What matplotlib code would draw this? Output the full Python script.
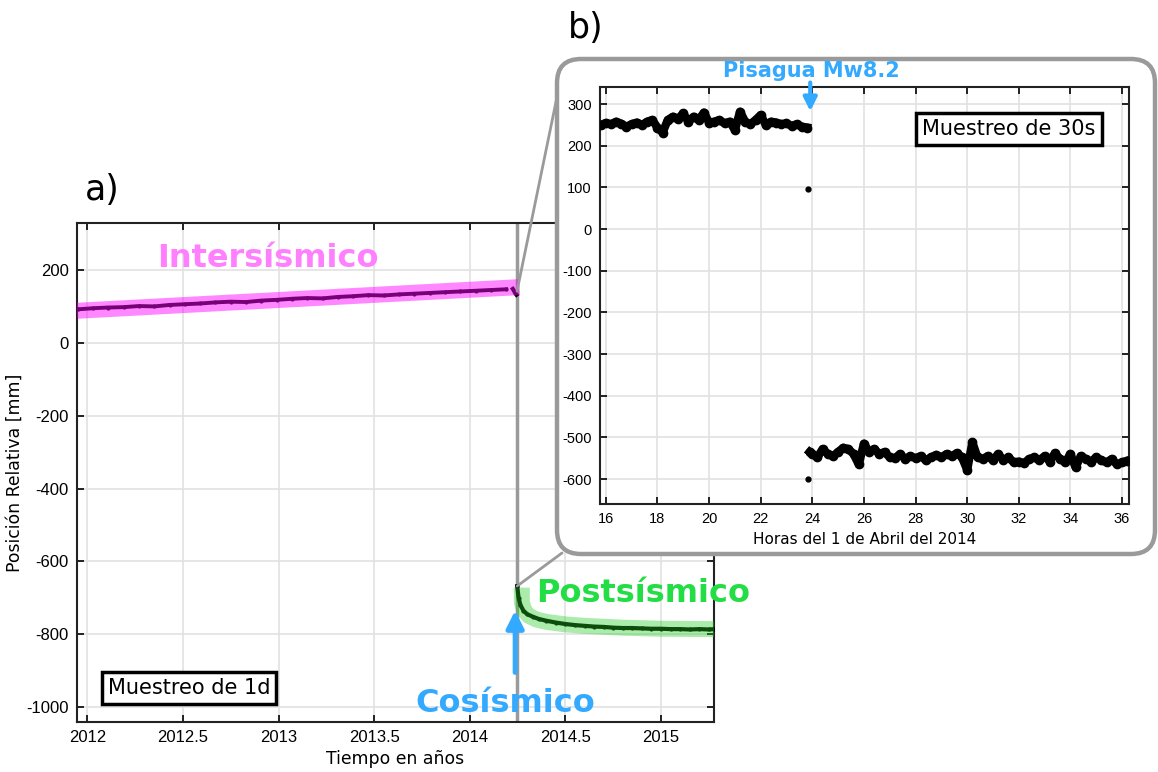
import matplotlib
matplotlib.use('Agg')
import matplotlib.pyplot as plt
from matplotlib.patches import FancyBboxPatch, ConnectionPatch
from matplotlib.transforms import IdentityTransform

plt.rcParams['axes.unicode_minus'] = False

# --- daily series (panel a) ---
t_inter = [2011.95, 2012.03, 2012.11, 2012.19, 2012.27, 2012.35, 2012.43, 2012.51,
           2012.59, 2012.67, 2012.75, 2012.83, 2012.91, 2012.99, 2013.07, 2013.15,
           2013.23, 2013.31, 2013.39, 2013.47, 2013.55, 2013.63, 2013.71, 2013.79,
           2013.87, 2013.95, 2014.03, 2014.11, 2014.19]
v_inter = [92, 95, 97, 98, 101, 100, 104, 106, 108, 111, 113, 112, 116, 118, 121, 123,
           122, 126, 128, 131, 130, 133, 135, 137, 139, 141, 143, 145, 147]
t_hook = [2014.225, 2014.232, 2014.238, 2014.244]
v_hook = [148, 142, 136, 132]
t_post = [2014.248, 2014.255, 2014.265, 2014.28, 2014.30, 2014.33, 2014.36, 2014.40,
          2014.45, 2014.50, 2014.55, 2014.60, 2014.65, 2014.70, 2014.75, 2014.80,
          2014.85, 2014.90, 2014.95, 2015.00, 2015.05, 2015.10, 2015.15, 2015.20,
          2015.25, 2015.277]
v_post = [-668, -700, -720, -735, -745, -752, -758, -763, -768, -772, -775, -777, -779,
          -780, -782, -783, -783, -784, -785, -785, -786, -786, -787, -786, -787, -786]

# trend bands
band_inter_t = [2011.946, 2014.26]
band_inter_v = [88, 153]
band_post_t = [2014.272, 2014.272, 2014.285, 2014.31, 2014.35, 2014.40, 2014.50,
               2014.60, 2014.80, 2015.00, 2015.277]
band_post_v = [-672, -712, -735, -750, -760, -766, -773, -777, -782, -785, -786]

quake_year = 2014.247

# --- 30 s series (panel b) ---
pre_h = [15.8, 16.0, 16.2, 16.4, 16.6, 16.8, 17.0, 17.2, 17.4, 17.6,
         17.8, 18.0, 18.2, 18.4, 18.6, 18.8, 19.0, 19.2, 19.4, 19.6,
         19.8, 20.0, 20.2, 20.4, 20.6, 20.8, 21.0, 21.2, 21.4, 21.6,
         21.8, 22.0, 22.2, 22.4, 22.6, 22.8, 23.0, 23.2, 23.4, 23.6,
         23.8]
pre_v = [250, 255, 252, 258, 253, 246, 252, 256, 250, 258,
         262, 244, 232, 262, 270, 265, 278, 258, 270, 262,
         280, 256, 258, 262, 254, 258, 238, 282, 258, 252,
         262, 274, 250, 258, 256, 252, 254, 248, 252, 246,
         244]
jump_h = [23.85, 23.83]
jump_v = [97, -600]
post_h = [23.9, 24.0, 24.2, 24.4, 24.6, 24.8, 25.0, 25.2, 25.4, 25.6,
          25.8, 26.0, 26.2, 26.4, 26.6, 26.8, 27.0, 27.2, 27.4, 27.6,
          27.8, 28.0, 28.2, 28.4, 28.6, 28.8, 29.0, 29.2, 29.4, 29.6,
          29.8, 30.0, 30.2, 30.4, 30.6, 30.8, 31.0, 31.2, 31.4, 31.6,
          31.8, 32.0, 32.2, 32.4, 32.6, 32.8, 33.0, 33.2, 33.4, 33.6,
          33.8, 34.0, 34.2, 34.4, 34.6, 34.8, 35.0, 35.2, 35.4, 35.6,
          35.8, 36.0, 36.2]
post_v = [-535, -540, -548, -528, -540, -545, -535, -525, -528, -540,
          -565, -515, -535, -528, -540, -535, -548, -550, -540, -552,
          -545, -550, -545, -555, -548, -542, -548, -540, -545, -538,
          -548, -578, -512, -548, -552, -545, -555, -540, -555, -548,
          -560, -558, -562, -552, -548, -555, -545, -558, -538, -552,
          -560, -540, -572, -545, -552, -558, -548, -555, -560, -552,
          -565, -560, -556]

W, H = 1158, 772
fig = plt.figure(figsize=(W / 100, H / 100), dpi=100)


def fx(px):
    return px / W


def fy(py):
    return 1 - py / H


tick_font = dict(family='Liberation Sans')
grid_col = '#e2e2e2'
gray = '#9a9a9a'

# ---------------- panel a ----------------
ax = fig.add_axes([fx(77), fy(722), fx(714) - fx(77), fy(223) - fy(722)])
ax.set_zorder(0)
ax.set_xlim(2011.946, 2015.277)
ax.set_ylim(-1041, 329)
ax.set_xticks([2012, 2012.5, 2013, 2013.5, 2014, 2014.5, 2015])
ax.set_xticklabels(['2012', '2012.5', '2013', '2013.5', '2014', '2014.5', '2015'], **tick_font)
ax.set_yticks([-1000, -800, -600, -400, -200, 0, 200])
ax.set_yticklabels(['-1000', '-800', '-600', '-400', '-200', '0', '200'], **tick_font)
ax.tick_params(direction='in', top=True, right=True, length=5, width=1.2, labelsize=12, pad=6)
ax.grid(True, color=grid_col, lw=1.2)
ax.set_axisbelow(True)
for s in ax.spines.values():
    s.set_linewidth(1.5)
    s.set_color('#222222')

ax.axvline(quake_year, color=gray, lw=2.5, zorder=2)
ax.plot(t_inter, v_inter, color='k', lw=2.8, marker='o', ms=2, zorder=3)
ax.plot(t_hook, v_hook, color='k', lw=3, zorder=3)
ax.plot(t_post, v_post, color='k', lw=3, marker='o', ms=2, zorder=3)
ax.plot(band_inter_t, band_inter_v, color='#ff00ff', alpha=0.47, lw=11.5,
        solid_capstyle='butt', zorder=4)
ax.plot(band_post_t, band_post_v, color='#22cc22', alpha=0.38, lw=11.5,
        solid_capstyle='butt', solid_joinstyle='round', zorder=4)

ax.annotate('', xy=(2014.237, -735), xytext=(2014.237, -905),
            arrowprops=dict(arrowstyle='-|>', color='#33aaff', lw=3.5,
                            mutation_scale=26, shrinkA=0, shrinkB=0), zorder=5)

ax.set_xlabel('Tiempo en años', fontsize=12.4, labelpad=3)
ax.set_ylabel('Posición Relativa [mm]', fontsize=12.4, labelpad=2)

fig.text(fx(268), fy(258), 'Intersísmico', ha='center', va='center',
         fontsize=23, fontweight='bold', color='#ff80ff')
fig.text(fx(643), fy(594), 'Postsísmico', ha='center', va='center',
         fontsize=23, fontweight='bold', color='#22dd44')
fig.text(fx(505), fy(703), 'Cosísmico', ha='center', va='center',
         fontsize=23, fontweight='bold', color='#33aaff')
fig.text(fx(189), fy(688), 'Muestreo de 1d', ha='center', va='center', fontsize=15,
         bbox=dict(boxstyle='square,pad=0.28', fc='white', ec='k', lw=2.5))
fig.text(fx(102), fy(190), 'a)', ha='center', va='center', fontsize=25)
fig.text(fx(586), fy(28), 'b)', ha='center', va='center', fontsize=25)

# connectors to the zoom box
for xy_data, xy_px in [((quake_year, 142), (557, 97)), ((quake_year, -668), (562, 553))]:
    con = ConnectionPatch(xyA=xy_data, coordsA=ax.transData,
                          xyB=(fx(xy_px[0]), fy(xy_px[1])), coordsB=fig.transFigure,
                          color=gray, lw=2)
    con.set_zorder(1)
    fig.add_artist(con)

box = FancyBboxPatch((557, H - 554), 598, 495, boxstyle='round,pad=0,rounding_size=24',
                     transform=IdentityTransform(), fc='white', ec=gray, lw=3.2)
box.set_zorder(1.5)
fig.add_artist(box)

# ---------------- panel b ----------------
ax2 = fig.add_axes([fx(600), fy(504), fx(1128.5) - fx(600), fy(86.7) - fy(504)])
ax2.set_zorder(2)
ax2.set_xlim(15.775, 36.25)
ax2.set_ylim(-660, 342)
ax2.set_xticks([16, 18, 20, 22, 24, 26, 28, 30, 32, 34, 36])
ax2.set_xticklabels(['16', '18', '20', '22', '24', '26', '28', '30', '32', '34', '36'], **tick_font)
ax2.set_yticks([-600, -500, -400, -300, -200, -100, 0, 100, 200, 300])
ax2.set_yticklabels(['-600', '-500', '-400', '-300', '-200', '-100', '0', '100', '200', '300'],
                    **tick_font)
ax2.tick_params(direction='in', top=True, right=True, length=5, width=1.2, labelsize=10.5, pad=6)
ax2.grid(True, color=grid_col, lw=1.2)
ax2.set_axisbelow(True)
for s in ax2.spines.values():
    s.set_linewidth(1.5)
    s.set_color('#222222')

ax2.plot(pre_h, pre_v, color='k', lw=6, marker='o', ms=6, zorder=3)
ax2.plot(jump_h, jump_v, color='k', lw=0, marker='o', ms=3.5, zorder=3)
ax2.plot(post_h, post_v, color='k', lw=6, marker='o', ms=6, zorder=3)

ax2.annotate('', xy=(23.92, 283), xytext=(23.92, 352),
             arrowprops=dict(arrowstyle='-|>', color='#33aaff', lw=3,
                             mutation_scale=20, shrinkA=0, shrinkB=0),
             annotation_clip=False)
ax2.text(23.96, 379, 'Pisagua Mw8.2', ha='center', va='center', fontsize=15,
         fontweight='bold', color='#33aaff', clip_on=False)
fig.text(fx(1009), fy(129), 'Muestreo de 30s', ha='center', va='center', fontsize=15,
         zorder=5, bbox=dict(boxstyle='square,pad=0.28', fc='white', ec='k', lw=2.5))
ax2.set_xlabel('Horas del 1 de Abril del 2014', fontsize=11, labelpad=4)

fig.savefig('out.png', dpi=100)
